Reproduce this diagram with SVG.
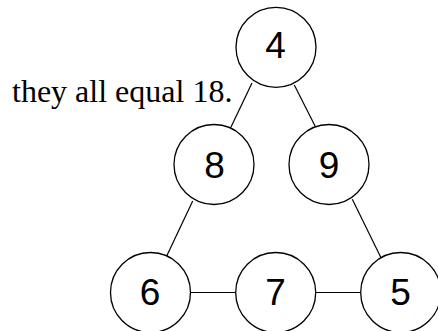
<svg xmlns="http://www.w3.org/2000/svg" width="438" height="331" viewBox="0 0 438 331">
<style>
.n circle{fill:#fff;stroke:#000;stroke-width:1.3}
.n text{font-family:"Liberation Sans",Arial,sans-serif;font-size:37px;text-anchor:middle;fill:#000}
.e line{stroke:#000;stroke-width:1.2}
.cap{font-family:"Liberation Serif","Times New Roman",serif;font-size:32px;fill:#000}
</style>
<rect width="438" height="331" fill="#fff"/>
<text class="cap" x="12" y="102">they all equal 18.</text>
<g id="connectors" class="e">
<line x1="252" y1="83" x2="231" y2="127"/>
<line x1="294.3" y1="85" x2="315.7" y2="127.3"/>
<line x1="192.7" y1="201" x2="166.7" y2="256"/>
<line x1="352.3" y1="199.3" x2="381" y2="257.7"/>
<line x1="190.5" y1="292.5" x2="235.7" y2="292.5"/>
<line x1="315.7" y1="292.5" x2="360.7" y2="292.5"/>
</g>
<g id="n4" class="n"><circle cx="276" cy="47.3" r="40"/><text x="275.5" y="58">4</text></g>
<g id="n8" class="n"><circle cx="214" cy="164.5" r="40"/><text x="214.5" y="178">8</text></g>
<g id="n9" class="n"><circle cx="329" cy="164.5" r="40"/><text x="329" y="178">9</text></g>
<g id="n6" class="n"><circle cx="150.5" cy="292.5" r="40"/><text x="150" y="305">6</text></g>
<g id="n7" class="n"><circle cx="275.7" cy="292.5" r="40"/><text x="275.5" y="305">7</text></g>
<g id="n5" class="n"><circle cx="400.7" cy="292.5" r="40"/><text x="400.5" y="305">5</text></g>
</svg>
